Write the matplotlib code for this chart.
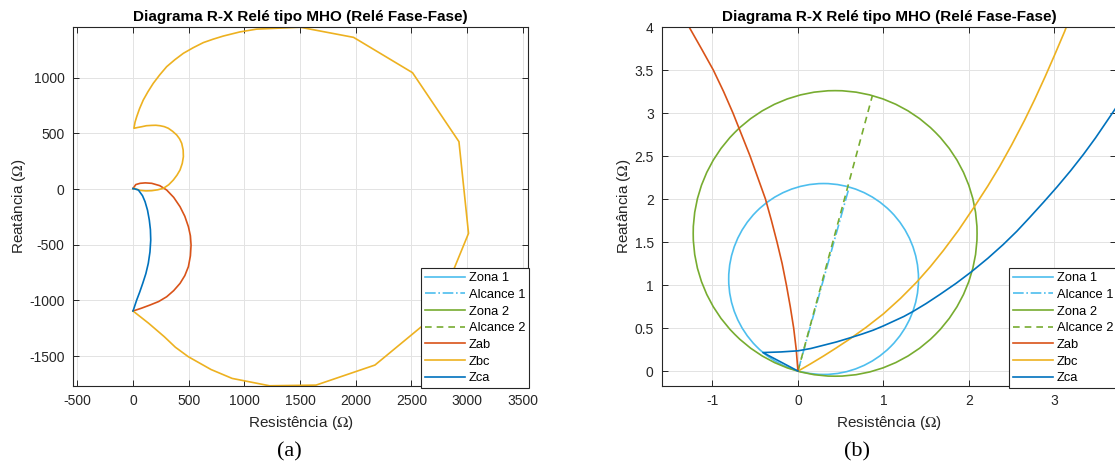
import matplotlib.pyplot as plt
from matplotlib.patches import Circle
from matplotlib.lines import Line2D
from matplotlib.ticker import FormatStrFormatter, MultipleLocator

# zonas do rele MHO (centro e raio, em ohm)
zona1_centro = (0.30, 1.07)
zona1_raio = 1.11
zona2_centro = (0.435, 1.60)
zona2_raio = 1.66

# alcances (origem -> ponto diametralmente oposto)
alcance1_r = [0, 0.60]
alcance1_x = [0, 2.14]
alcance2_r = [0, 0.87]
alcance2_x = [0, 3.20]

# (a) trajetorias das impedancias - escala completa
zab_a_r = [0, 25, 63, 110, 168, 240, 302, 365, 422, 465, 497, 515, 521, 515,
           497, 465, 422, 365, 302, 230, 153, 75, 0]
zab_a_x = [5, 40, 51, 55, 51, 30, -9, -75, -159, -245, -338, -420, -503, -600,
           -697, -777, -847, -912, -967, -1010, -1041, -1070, -1095]

zbc_a_r = [12, 63, 115, 168, 222, 272, 320, 362, 395, 422, 442, 452, 450, 437,
           418, 392, 355, 317, 280, 242, 205, 168, 120, 78, 40, 8,
           18, 33, 58, 92, 135, 182, 240, 302, 375, 452, 540, 631, 720, 811,
           960, 1110, 1500, 1980, 2509, 2926, 3012, 2710, 2172, 1643, 1226,
           890, 700, 496, 380, 281, 140, 0]
zbc_a_x = [6, -12, -17, -15, -7, 6, 38, 81, 125, 171, 230, 290, 350, 410,
           450, 485, 518, 545, 560, 568, 572, 571, 568, 559, 552, 545,
           600, 649, 720, 799, 875, 949, 1025, 1098, 1160, 1218, 1268, 1314,
           1345, 1373, 1410, 1435, 1452, 1361, 1044, 425, -398, -1136, -1580,
           -1760, -1766, -1700, -1620, -1505, -1420, -1326, -1205, -1095]

zca_a_r = [0, 48, 85, 108, 130, 146, 156, 159, 152, 137, 115, 87, 60, 33, 15, 0]
zca_a_x = [5, -9, -60, -114, -190, -278, -365, -458, -565, -667, -760, -847,
           -925, -996, -1050, -1095]

# (b) detalhe proximo da origem
zab_b_r = [-1.29, -1.13, -0.99, -0.87, -0.76, -0.66, -0.56, -0.47, -0.38, -0.31,
           -0.245, -0.185, -0.135, -0.09, -0.05, -0.02, 0]
zab_b_x = [4.03, 3.75, 3.50, 3.25, 3.0, 2.75, 2.5, 2.25, 2.0, 1.75, 1.5, 1.25,
           1.0, 0.75, 0.5, 0.25, 0]

zbc_b_r = [0.02, 0.15, 0.30, 0.45, 0.61, 0.80, 1.0, 1.20, 1.39, 1.55, 1.70, 1.88,
           2.07, 2.22, 2.36, 2.50, 2.65, 2.77, 2.89, 3.00, 3.12, 3.15]
zbc_b_x = [0.01, 0.085, 0.175, 0.27, 0.375, 0.51, 0.665, 0.845, 1.035, 1.215,
           1.40, 1.64, 1.92, 2.15, 2.38, 2.63, 2.915, 3.16, 3.42, 3.67, 3.95, 4.03]

zca_b_r = [0, -0.41, -0.2, 0.0, 0.15, 0.30, 0.45, 0.59, 0.75, 0.88, 1.0, 1.12,
           1.24, 1.35, 1.50, 1.66, 1.85, 2.03, 2.22, 2.40, 2.56, 2.71, 2.87,
           3.03, 3.19, 3.34, 3.48, 3.61, 3.76]
zca_b_x = [0, 0.215, 0.222, 0.235, 0.262, 0.30, 0.338, 0.38, 0.43, 0.475, 0.525,
           0.58, 0.635, 0.695, 0.785, 0.89, 1.02, 1.155, 1.31, 1.47, 1.625,
           1.785, 1.96, 2.14, 2.33, 2.52, 2.71, 2.90, 3.12]

labels = ["Zona 1", "Alcance 1", "Zona 2", "Alcance 2", "Zab", "Zbc", "Zca"]

C_Z1 = "#4DBEEE"
C_Z2 = "#77AC30"
C_AB = "#D95319"
C_BC = "#EDB120"
C_CA = "#0072BD"
LW = 1.2
DASH = (0, (4, 3))

plt.rcParams['font.family'] = ['Liberation Sans', 'DejaVu Sans']
plt.rcParams['mathtext.fontset'] = 'stix'


def desenha(ax, zab, zbc, zca, xlim, ylim, xstep, ystep):
    ax.add_patch(Circle(zona1_centro, zona1_raio, fill=False, color=C_Z1, lw=LW))
    ax.plot(alcance1_r, alcance1_x, color=C_Z1, lw=LW, ls='-.')
    ax.add_patch(Circle(zona2_centro, zona2_raio, fill=False, color=C_Z2, lw=LW))
    ax.plot(alcance2_r, alcance2_x, color=C_Z2, lw=LW, ls=DASH)
    ax.plot(zab[0], zab[1], color=C_AB, lw=LW)
    ax.plot(zbc[0], zbc[1], color=C_BC, lw=LW)
    ax.plot(zca[0], zca[1], color=C_CA, lw=LW)

    ax.set_xlim(*xlim)
    ax.set_ylim(*ylim)
    ax.xaxis.set_major_locator(MultipleLocator(xstep))
    ax.yaxis.set_major_locator(MultipleLocator(ystep))
    ax.xaxis.set_major_formatter(FormatStrFormatter('%g'))
    ax.yaxis.set_major_formatter(FormatStrFormatter('%g'))
    ax.grid(True, color='#E3E3E3', lw=0.7)
    ax.set_axisbelow(True)
    ax.tick_params(direction='in', top=True, right=True, length=4, width=0.7,
                   labelsize=10, colors='#262626', pad=6)
    for s in ax.spines.values():
        s.set_color('#262626')
        s.set_linewidth(0.8)

    ax.set_title("Diagrama R-X Relé tipo MHO (Relé Fase-Fase)", fontsize=11,
                 fontweight='bold', pad=4)
    ax.set_xlabel(r"Resistência ($\Omega$)", fontsize=11, color='#262626', labelpad=4)
    ax.set_ylabel(r"Reatância ($\Omega$)", fontsize=11, color='#262626', labelpad=1)

    handles = [Line2D([], [], color=C_Z1, lw=LW),
               Line2D([], [], color=C_Z1, lw=LW, ls='-.'),
               Line2D([], [], color=C_Z2, lw=LW),
               Line2D([], [], color=C_Z2, lw=LW, ls=DASH),
               Line2D([], [], color=C_AB, lw=LW),
               Line2D([], [], color=C_BC, lw=LW),
               Line2D([], [], color=C_CA, lw=LW)]
    leg = ax.legend(handles, labels, loc='lower right', bbox_to_anchor=(1.002, -0.006),
                    borderaxespad=0, fontsize=9.3, handlelength=3.1, handletextpad=0.3,
                    labelspacing=0.36, borderpad=0.3, fancybox=False, framealpha=1)
    leg.get_frame().set_edgecolor('#262626')
    leg.get_frame().set_linewidth(0.8)


fig = plt.figure(figsize=(11.15, 4.72), dpi=100)
ax1 = fig.add_axes([73 / 1115, 86 / 472, 455 / 1115, 359 / 472])
ax2 = fig.add_axes([662 / 1115, 86 / 472, 454 / 1115, 359 / 472])

desenha(ax1, (zab_a_r, zab_a_x), (zbc_a_r, zbc_a_x), (zca_a_r, zca_a_x),
        (-539, 3546), (-1768, 1454), 500, 500)
desenha(ax2, (zab_b_r, zab_b_x), (zbc_b_r, zbc_b_x), (zca_b_r, zca_b_x),
        (-1.59, 3.72), (-0.174, 4.0), 1, 0.5)

fig.text(289 / 1115, 1 - 452 / 472, "(a)", family='Liberation Serif', fontsize=16,
         ha='center', va='center')
fig.text(857 / 1115, 1 - 452 / 472, "(b)", family='Liberation Serif', fontsize=16,
         ha='center', va='center')

fig.savefig("out.png", dpi=100)
